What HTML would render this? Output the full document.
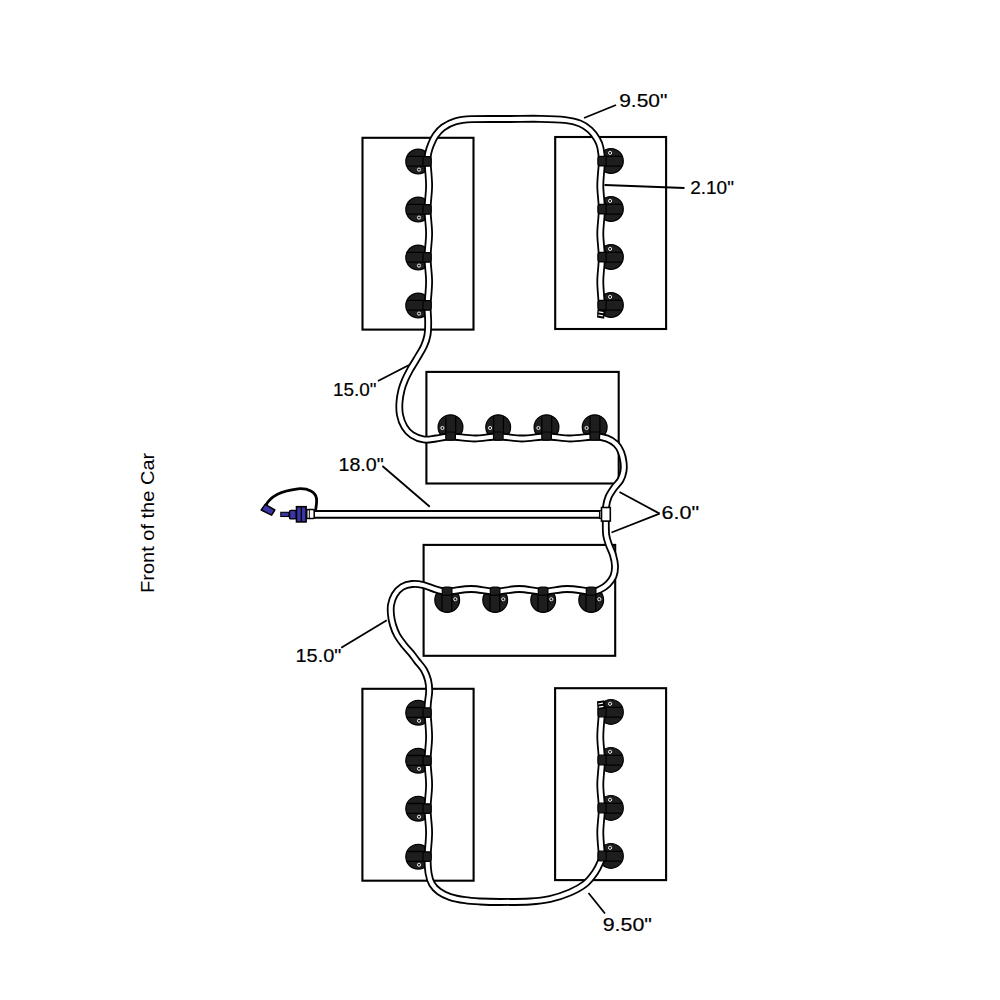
<!DOCTYPE html>
<html><head><meta charset="utf-8"><style>
html,body{margin:0;padding:0;background:#fff;}
svg{display:block;}
text{font-family:"Liberation Sans",sans-serif;fill:#000;stroke:#000;stroke-width:0.2px;}
</style></head><body>
<svg width="1000" height="1000" viewBox="0 0 1000 1000">
<rect width="1000" height="1000" fill="#fff"/>
<rect x="362.5" y="137.8" width="111.0" height="191.8" fill="none" stroke="#000" stroke-width="2.1"/><rect x="555.2" y="137.0" width="110.9" height="192.0" fill="none" stroke="#000" stroke-width="2.1"/><rect x="426.4" y="371.9" width="192.3" height="111.6" fill="none" stroke="#000" stroke-width="2.1"/><rect x="423.6" y="544.9" width="191.6" height="110.9" fill="none" stroke="#000" stroke-width="2.1"/><rect x="362.4" y="688.8" width="111.2" height="191.9" fill="none" stroke="#000" stroke-width="2.1"/><rect x="555.1" y="688.2" width="111.0" height="191.9" fill="none" stroke="#000" stroke-width="2.1"/>
<g transform="translate(418.2 161.5) rotate(0)"><circle r="12.4" fill="#1e1e1e" stroke="#000" stroke-width="1.2"/><path d="M-11 -5.2 H5 M-11 4.6 H5" stroke="#000" stroke-width="1.3"/><circle cx="0.8" cy="8.1" r="1.6" fill="none" stroke="#fff" stroke-width="0.9"/></g><g transform="translate(418.2 209.5) rotate(0)"><circle r="12.4" fill="#1e1e1e" stroke="#000" stroke-width="1.2"/><path d="M-11 -5.2 H5 M-11 4.6 H5" stroke="#000" stroke-width="1.3"/><circle cx="0.8" cy="8.1" r="1.6" fill="none" stroke="#fff" stroke-width="0.9"/></g><g transform="translate(418.2 257.5) rotate(0)"><circle r="12.4" fill="#1e1e1e" stroke="#000" stroke-width="1.2"/><path d="M-11 -5.2 H5 M-11 4.6 H5" stroke="#000" stroke-width="1.3"/><circle cx="0.8" cy="8.1" r="1.6" fill="none" stroke="#fff" stroke-width="0.9"/></g><g transform="translate(418.2 305.5) rotate(0)"><circle r="12.4" fill="#1e1e1e" stroke="#000" stroke-width="1.2"/><path d="M-11 -5.2 H5 M-11 4.6 H5" stroke="#000" stroke-width="1.3"/><circle cx="0.8" cy="8.1" r="1.6" fill="none" stroke="#fff" stroke-width="0.9"/></g><g transform="translate(610.9 161.0) rotate(180)"><circle r="12.4" fill="#1e1e1e" stroke="#000" stroke-width="1.2"/><path d="M-11 -5.2 H5 M-11 4.6 H5" stroke="#000" stroke-width="1.3"/><circle cx="0.8" cy="8.1" r="1.6" fill="none" stroke="#fff" stroke-width="0.9"/></g><g transform="translate(610.9 209.0) rotate(180)"><circle r="12.4" fill="#1e1e1e" stroke="#000" stroke-width="1.2"/><path d="M-11 -5.2 H5 M-11 4.6 H5" stroke="#000" stroke-width="1.3"/><circle cx="0.8" cy="8.1" r="1.6" fill="none" stroke="#fff" stroke-width="0.9"/></g><g transform="translate(610.9 257.0) rotate(180)"><circle r="12.4" fill="#1e1e1e" stroke="#000" stroke-width="1.2"/><path d="M-11 -5.2 H5 M-11 4.6 H5" stroke="#000" stroke-width="1.3"/><circle cx="0.8" cy="8.1" r="1.6" fill="none" stroke="#fff" stroke-width="0.9"/></g><g transform="translate(610.9 305.0) rotate(180)"><circle r="12.4" fill="#1e1e1e" stroke="#000" stroke-width="1.2"/><path d="M-11 -5.2 H5 M-11 4.6 H5" stroke="#000" stroke-width="1.3"/><circle cx="0.8" cy="8.1" r="1.6" fill="none" stroke="#fff" stroke-width="0.9"/></g><g transform="translate(450.5 427.2) rotate(90)"><circle r="12.4" fill="#1e1e1e" stroke="#000" stroke-width="1.2"/><path d="M-11 -5.2 H5 M-11 4.6 H5" stroke="#000" stroke-width="1.3"/><circle cx="0.8" cy="8.1" r="1.6" fill="none" stroke="#fff" stroke-width="0.9"/></g><g transform="translate(498.2 427.2) rotate(90)"><circle r="12.4" fill="#1e1e1e" stroke="#000" stroke-width="1.2"/><path d="M-11 -5.2 H5 M-11 4.6 H5" stroke="#000" stroke-width="1.3"/><circle cx="0.8" cy="8.1" r="1.6" fill="none" stroke="#fff" stroke-width="0.9"/></g><g transform="translate(546.5 427.2) rotate(90)"><circle r="12.4" fill="#1e1e1e" stroke="#000" stroke-width="1.2"/><path d="M-11 -5.2 H5 M-11 4.6 H5" stroke="#000" stroke-width="1.3"/><circle cx="0.8" cy="8.1" r="1.6" fill="none" stroke="#fff" stroke-width="0.9"/></g><g transform="translate(594.7 427.2) rotate(90)"><circle r="12.4" fill="#1e1e1e" stroke="#000" stroke-width="1.2"/><path d="M-11 -5.2 H5 M-11 4.6 H5" stroke="#000" stroke-width="1.3"/><circle cx="0.8" cy="8.1" r="1.6" fill="none" stroke="#fff" stroke-width="0.9"/></g><g transform="translate(591.2 600.0) rotate(270)"><circle r="12.4" fill="#1e1e1e" stroke="#000" stroke-width="1.2"/><path d="M-11 -5.2 H5 M-11 4.6 H5" stroke="#000" stroke-width="1.3"/><circle cx="0.8" cy="8.1" r="1.6" fill="none" stroke="#fff" stroke-width="0.9"/></g><g transform="translate(543.2 600.0) rotate(270)"><circle r="12.4" fill="#1e1e1e" stroke="#000" stroke-width="1.2"/><path d="M-11 -5.2 H5 M-11 4.6 H5" stroke="#000" stroke-width="1.3"/><circle cx="0.8" cy="8.1" r="1.6" fill="none" stroke="#fff" stroke-width="0.9"/></g><g transform="translate(495.2 600.0) rotate(270)"><circle r="12.4" fill="#1e1e1e" stroke="#000" stroke-width="1.2"/><path d="M-11 -5.2 H5 M-11 4.6 H5" stroke="#000" stroke-width="1.3"/><circle cx="0.8" cy="8.1" r="1.6" fill="none" stroke="#fff" stroke-width="0.9"/></g><g transform="translate(447.2 600.0) rotate(270)"><circle r="12.4" fill="#1e1e1e" stroke="#000" stroke-width="1.2"/><path d="M-11 -5.2 H5 M-11 4.6 H5" stroke="#000" stroke-width="1.3"/><circle cx="0.8" cy="8.1" r="1.6" fill="none" stroke="#fff" stroke-width="0.9"/></g><g transform="translate(418.2 712.7) rotate(0)"><circle r="12.4" fill="#1e1e1e" stroke="#000" stroke-width="1.2"/><path d="M-11 -5.2 H5 M-11 4.6 H5" stroke="#000" stroke-width="1.3"/><circle cx="0.8" cy="8.1" r="1.6" fill="none" stroke="#fff" stroke-width="0.9"/></g><g transform="translate(418.2 760.7) rotate(0)"><circle r="12.4" fill="#1e1e1e" stroke="#000" stroke-width="1.2"/><path d="M-11 -5.2 H5 M-11 4.6 H5" stroke="#000" stroke-width="1.3"/><circle cx="0.8" cy="8.1" r="1.6" fill="none" stroke="#fff" stroke-width="0.9"/></g><g transform="translate(418.2 808.7) rotate(0)"><circle r="12.4" fill="#1e1e1e" stroke="#000" stroke-width="1.2"/><path d="M-11 -5.2 H5 M-11 4.6 H5" stroke="#000" stroke-width="1.3"/><circle cx="0.8" cy="8.1" r="1.6" fill="none" stroke="#fff" stroke-width="0.9"/></g><g transform="translate(418.2 856.7) rotate(0)"><circle r="12.4" fill="#1e1e1e" stroke="#000" stroke-width="1.2"/><path d="M-11 -5.2 H5 M-11 4.6 H5" stroke="#000" stroke-width="1.3"/><circle cx="0.8" cy="8.1" r="1.6" fill="none" stroke="#fff" stroke-width="0.9"/></g><g transform="translate(610.9 711.9) rotate(180)"><circle r="12.4" fill="#1e1e1e" stroke="#000" stroke-width="1.2"/><path d="M-11 -5.2 H5 M-11 4.6 H5" stroke="#000" stroke-width="1.3"/><circle cx="0.8" cy="8.1" r="1.6" fill="none" stroke="#fff" stroke-width="0.9"/></g><g transform="translate(610.9 759.9) rotate(180)"><circle r="12.4" fill="#1e1e1e" stroke="#000" stroke-width="1.2"/><path d="M-11 -5.2 H5 M-11 4.6 H5" stroke="#000" stroke-width="1.3"/><circle cx="0.8" cy="8.1" r="1.6" fill="none" stroke="#fff" stroke-width="0.9"/></g><g transform="translate(610.9 807.9) rotate(180)"><circle r="12.4" fill="#1e1e1e" stroke="#000" stroke-width="1.2"/><path d="M-11 -5.2 H5 M-11 4.6 H5" stroke="#000" stroke-width="1.3"/><circle cx="0.8" cy="8.1" r="1.6" fill="none" stroke="#fff" stroke-width="0.9"/></g><g transform="translate(610.9 855.9) rotate(180)"><circle r="12.4" fill="#1e1e1e" stroke="#000" stroke-width="1.2"/><path d="M-11 -5.2 H5 M-11 4.6 H5" stroke="#000" stroke-width="1.3"/><circle cx="0.8" cy="8.1" r="1.6" fill="none" stroke="#fff" stroke-width="0.9"/></g>
<path d="M601.5 315.0 C601.5 313.4 602.0 311.1 601.8 305.5 C601.6 299.9 600.3 289.5 600.3 281.5 C600.3 273.5 601.8 265.5 601.8 257.5 C601.8 249.5 600.3 241.5 600.3 233.5 C600.3 225.5 601.8 217.5 601.8 209.5 C601.8 201.5 600.3 193.5 600.3 185.5 C600.3 177.5 601.8 167.8 601.8 161.5 C601.8 155.2 601.3 151.8 600.5 148.0 C599.7 144.2 598.8 142.0 597.0 139.0 C595.2 136.0 592.8 132.6 590.0 130.0 C587.2 127.4 584.2 125.2 580.0 123.5 C575.8 121.8 571.7 120.8 565.0 120.0 C558.3 119.2 549.2 119.0 540.0 118.8 C530.8 118.6 521.3 118.9 510.0 119.0 C498.7 119.1 481.2 118.8 472.0 119.2 C462.8 119.6 459.8 120.1 455.0 121.5 C450.2 122.9 446.2 125.2 443.0 127.5 C439.8 129.8 437.5 132.7 435.5 135.5 C433.5 138.3 432.2 141.6 431.0 144.5 C429.8 147.4 428.9 150.2 428.3 153.0 C427.7 155.8 427.5 156.1 427.6 161.5 C427.7 166.9 429.1 177.5 429.1 185.5 C429.1 193.5 427.6 201.5 427.6 209.5 C427.6 217.5 429.1 225.5 429.1 233.5 C429.1 241.5 427.6 249.5 427.6 257.5 C427.6 265.5 429.1 273.5 429.1 281.5 C429.1 289.5 427.8 298.8 427.6 305.5 C427.5 312.2 428.2 317.1 428.2 322.0 C428.2 326.9 428.2 331.0 427.5 335.0 C426.8 339.0 425.9 341.8 424.0 346.0 C422.1 350.2 418.3 356.0 416.0 360.0 C413.7 364.0 411.8 366.7 410.0 370.0 C408.2 373.3 406.4 376.7 405.0 380.0 C403.6 383.3 402.4 386.3 401.5 390.0 C400.6 393.7 399.8 397.8 399.5 402.0 C399.2 406.2 399.2 410.8 400.0 415.0 C400.8 419.2 402.5 423.7 404.5 427.0 C406.5 430.3 408.8 432.9 412.0 435.0 C415.2 437.1 420.0 438.9 424.0 439.5 C428.0 440.1 431.6 439.0 436.0 438.5 C440.4 438.0 444.1 436.5 450.5 436.5 C456.9 436.5 466.6 438.5 474.5 438.5 C482.4 438.5 490.2 436.5 498.2 436.5 C506.1 436.5 514.2 438.5 522.2 438.5 C530.2 438.5 538.5 436.5 546.5 436.5 C554.5 436.5 562.5 438.5 570.5 438.5 C578.5 438.5 588.6 436.5 594.7 436.5 C600.8 436.5 603.5 437.2 607.0 438.5 C610.5 439.8 613.7 441.8 616.0 444.0 C618.3 446.2 619.8 449.0 621.0 452.0 C622.2 455.0 623.1 458.8 623.5 462.0 C623.9 465.2 624.0 468.0 623.5 471.0 C623.0 474.0 622.1 477.2 620.5 480.0 C618.9 482.8 616.0 485.2 614.0 488.0 C612.0 490.8 609.8 493.8 608.5 497.0 C607.2 500.2 606.5 503.0 606.0 507.0 C605.5 511.0 605.8 516.3 605.8 521.0 C605.8 525.7 605.7 531.0 606.2 535.0 C606.7 539.0 607.9 541.7 609.0 545.0 C610.1 548.3 612.0 551.5 613.0 555.0 C614.0 558.5 614.9 562.5 615.0 566.0 C615.1 569.5 614.7 573.0 613.5 576.0 C612.3 579.0 610.2 581.8 608.0 584.0 C605.8 586.2 602.8 588.2 600.0 589.5 C597.2 590.8 596.7 591.6 591.2 591.5 C585.7 591.4 575.2 589.0 567.2 589.0 C559.2 589.0 551.2 591.5 543.2 591.5 C535.2 591.5 527.2 589.0 519.2 589.0 C511.2 589.0 503.2 591.5 495.2 591.5 C487.2 591.5 479.2 589.0 471.2 589.0 C463.2 589.0 453.1 591.4 447.2 591.5 C441.3 591.6 440.0 590.6 436.0 589.5 C432.0 588.4 427.0 585.9 423.0 585.0 C419.0 584.1 415.5 583.7 412.0 584.0 C408.5 584.3 404.9 585.2 402.0 587.0 C399.1 588.8 396.3 592.0 394.5 595.0 C392.7 598.0 391.6 601.7 391.0 605.0 C390.4 608.3 390.7 611.7 391.0 615.0 C391.3 618.3 392.0 621.7 393.0 625.0 C394.0 628.3 395.2 631.7 397.0 635.0 C398.8 638.3 401.7 642.0 404.0 645.0 C406.3 648.0 408.8 650.3 411.0 653.0 C413.2 655.7 414.8 658.2 417.0 661.0 C419.2 663.8 422.2 666.8 424.0 670.0 C425.8 673.2 427.1 676.5 428.0 680.0 C428.9 683.5 429.2 687.3 429.2 691.0 C429.2 694.7 428.3 698.4 428.0 702.0 C427.7 705.6 427.4 706.9 427.6 712.7 C427.8 718.5 429.1 728.7 429.1 736.7 C429.1 744.7 427.6 752.7 427.6 760.7 C427.6 768.7 429.1 776.7 429.1 784.7 C429.1 792.7 427.6 800.7 427.6 808.7 C427.6 816.7 429.1 824.7 429.1 832.7 C429.1 840.7 427.7 850.0 427.6 856.7 C427.5 863.4 427.8 868.5 428.5 873.0 C429.2 877.5 430.2 880.9 432.0 884.0 C433.8 887.1 436.0 889.3 439.0 891.5 C442.0 893.7 445.7 895.5 450.0 897.0 C454.3 898.5 460.0 899.5 465.0 900.2 C470.0 901.0 474.2 901.2 480.0 901.5 C485.8 901.8 491.7 902.0 500.0 902.0 C508.3 902.0 521.7 902.0 530.0 901.5 C538.3 901.0 543.3 900.5 550.0 899.0 C556.7 897.5 564.2 895.0 570.0 892.5 C575.8 890.0 580.8 887.3 585.0 884.0 C589.2 880.7 592.4 876.2 595.0 872.5 C597.6 868.8 599.4 864.6 600.5 862.0 C601.6 859.4 601.8 861.6 601.8 856.7 C601.8 851.8 600.3 840.7 600.3 832.7 C600.3 824.7 601.8 816.7 601.8 808.7 C601.8 800.7 600.3 792.7 600.3 784.7 C600.3 776.7 601.8 768.7 601.8 760.7 C601.8 752.7 600.3 744.7 600.3 736.7 C600.3 728.7 601.6 718.7 601.8 712.7 C602.0 706.8 601.5 703.0 601.5 701.0" fill="none" stroke="#000" stroke-width="7.8" stroke-linejoin="round"/>
<path d="M601.5 315.0 C601.5 313.4 602.0 311.1 601.8 305.5 C601.6 299.9 600.3 289.5 600.3 281.5 C600.3 273.5 601.8 265.5 601.8 257.5 C601.8 249.5 600.3 241.5 600.3 233.5 C600.3 225.5 601.8 217.5 601.8 209.5 C601.8 201.5 600.3 193.5 600.3 185.5 C600.3 177.5 601.8 167.8 601.8 161.5 C601.8 155.2 601.3 151.8 600.5 148.0 C599.7 144.2 598.8 142.0 597.0 139.0 C595.2 136.0 592.8 132.6 590.0 130.0 C587.2 127.4 584.2 125.2 580.0 123.5 C575.8 121.8 571.7 120.8 565.0 120.0 C558.3 119.2 549.2 119.0 540.0 118.8 C530.8 118.6 521.3 118.9 510.0 119.0 C498.7 119.1 481.2 118.8 472.0 119.2 C462.8 119.6 459.8 120.1 455.0 121.5 C450.2 122.9 446.2 125.2 443.0 127.5 C439.8 129.8 437.5 132.7 435.5 135.5 C433.5 138.3 432.2 141.6 431.0 144.5 C429.8 147.4 428.9 150.2 428.3 153.0 C427.7 155.8 427.5 156.1 427.6 161.5 C427.7 166.9 429.1 177.5 429.1 185.5 C429.1 193.5 427.6 201.5 427.6 209.5 C427.6 217.5 429.1 225.5 429.1 233.5 C429.1 241.5 427.6 249.5 427.6 257.5 C427.6 265.5 429.1 273.5 429.1 281.5 C429.1 289.5 427.8 298.8 427.6 305.5 C427.5 312.2 428.2 317.1 428.2 322.0 C428.2 326.9 428.2 331.0 427.5 335.0 C426.8 339.0 425.9 341.8 424.0 346.0 C422.1 350.2 418.3 356.0 416.0 360.0 C413.7 364.0 411.8 366.7 410.0 370.0 C408.2 373.3 406.4 376.7 405.0 380.0 C403.6 383.3 402.4 386.3 401.5 390.0 C400.6 393.7 399.8 397.8 399.5 402.0 C399.2 406.2 399.2 410.8 400.0 415.0 C400.8 419.2 402.5 423.7 404.5 427.0 C406.5 430.3 408.8 432.9 412.0 435.0 C415.2 437.1 420.0 438.9 424.0 439.5 C428.0 440.1 431.6 439.0 436.0 438.5 C440.4 438.0 444.1 436.5 450.5 436.5 C456.9 436.5 466.6 438.5 474.5 438.5 C482.4 438.5 490.2 436.5 498.2 436.5 C506.1 436.5 514.2 438.5 522.2 438.5 C530.2 438.5 538.5 436.5 546.5 436.5 C554.5 436.5 562.5 438.5 570.5 438.5 C578.5 438.5 588.6 436.5 594.7 436.5 C600.8 436.5 603.5 437.2 607.0 438.5 C610.5 439.8 613.7 441.8 616.0 444.0 C618.3 446.2 619.8 449.0 621.0 452.0 C622.2 455.0 623.1 458.8 623.5 462.0 C623.9 465.2 624.0 468.0 623.5 471.0 C623.0 474.0 622.1 477.2 620.5 480.0 C618.9 482.8 616.0 485.2 614.0 488.0 C612.0 490.8 609.8 493.8 608.5 497.0 C607.2 500.2 606.5 503.0 606.0 507.0 C605.5 511.0 605.8 516.3 605.8 521.0 C605.8 525.7 605.7 531.0 606.2 535.0 C606.7 539.0 607.9 541.7 609.0 545.0 C610.1 548.3 612.0 551.5 613.0 555.0 C614.0 558.5 614.9 562.5 615.0 566.0 C615.1 569.5 614.7 573.0 613.5 576.0 C612.3 579.0 610.2 581.8 608.0 584.0 C605.8 586.2 602.8 588.2 600.0 589.5 C597.2 590.8 596.7 591.6 591.2 591.5 C585.7 591.4 575.2 589.0 567.2 589.0 C559.2 589.0 551.2 591.5 543.2 591.5 C535.2 591.5 527.2 589.0 519.2 589.0 C511.2 589.0 503.2 591.5 495.2 591.5 C487.2 591.5 479.2 589.0 471.2 589.0 C463.2 589.0 453.1 591.4 447.2 591.5 C441.3 591.6 440.0 590.6 436.0 589.5 C432.0 588.4 427.0 585.9 423.0 585.0 C419.0 584.1 415.5 583.7 412.0 584.0 C408.5 584.3 404.9 585.2 402.0 587.0 C399.1 588.8 396.3 592.0 394.5 595.0 C392.7 598.0 391.6 601.7 391.0 605.0 C390.4 608.3 390.7 611.7 391.0 615.0 C391.3 618.3 392.0 621.7 393.0 625.0 C394.0 628.3 395.2 631.7 397.0 635.0 C398.8 638.3 401.7 642.0 404.0 645.0 C406.3 648.0 408.8 650.3 411.0 653.0 C413.2 655.7 414.8 658.2 417.0 661.0 C419.2 663.8 422.2 666.8 424.0 670.0 C425.8 673.2 427.1 676.5 428.0 680.0 C428.9 683.5 429.2 687.3 429.2 691.0 C429.2 694.7 428.3 698.4 428.0 702.0 C427.7 705.6 427.4 706.9 427.6 712.7 C427.8 718.5 429.1 728.7 429.1 736.7 C429.1 744.7 427.6 752.7 427.6 760.7 C427.6 768.7 429.1 776.7 429.1 784.7 C429.1 792.7 427.6 800.7 427.6 808.7 C427.6 816.7 429.1 824.7 429.1 832.7 C429.1 840.7 427.7 850.0 427.6 856.7 C427.5 863.4 427.8 868.5 428.5 873.0 C429.2 877.5 430.2 880.9 432.0 884.0 C433.8 887.1 436.0 889.3 439.0 891.5 C442.0 893.7 445.7 895.5 450.0 897.0 C454.3 898.5 460.0 899.5 465.0 900.2 C470.0 901.0 474.2 901.2 480.0 901.5 C485.8 901.8 491.7 902.0 500.0 902.0 C508.3 902.0 521.7 902.0 530.0 901.5 C538.3 901.0 543.3 900.5 550.0 899.0 C556.7 897.5 564.2 895.0 570.0 892.5 C575.8 890.0 580.8 887.3 585.0 884.0 C589.2 880.7 592.4 876.2 595.0 872.5 C597.6 868.8 599.4 864.6 600.5 862.0 C601.6 859.4 601.8 861.6 601.8 856.7 C601.8 851.8 600.3 840.7 600.3 832.7 C600.3 824.7 601.8 816.7 601.8 808.7 C601.8 800.7 600.3 792.7 600.3 784.7 C600.3 776.7 601.8 768.7 601.8 760.7 C601.8 752.7 600.3 744.7 600.3 736.7 C600.3 728.7 601.6 718.7 601.8 712.7 C602.0 706.8 601.5 703.0 601.5 701.0" fill="none" stroke="#fff" stroke-width="4.2" stroke-linejoin="round"/>
<path d="M314 514.4 L602 514.4" fill="none" stroke="#000" stroke-width="8.8"/>
<path d="M314 514.4 L602 514.4" fill="none" stroke="#fff" stroke-width="4.8"/>
<g transform="translate(418.2 161.5) rotate(0)"><path d="M4.8 -4.9 H10.9 Q13.0 -4.9 13.0 -2 V1.8 Q13.0 4.7 10.9 4.7 H4.8 Z" fill="#1e1e1e" stroke="#000" stroke-width="1.2"/></g><g transform="translate(418.2 209.5) rotate(0)"><path d="M4.8 -4.9 H10.9 Q13.0 -4.9 13.0 -2 V1.8 Q13.0 4.7 10.9 4.7 H4.8 Z" fill="#1e1e1e" stroke="#000" stroke-width="1.2"/></g><g transform="translate(418.2 257.5) rotate(0)"><path d="M4.8 -4.9 H10.9 Q13.0 -4.9 13.0 -2 V1.8 Q13.0 4.7 10.9 4.7 H4.8 Z" fill="#1e1e1e" stroke="#000" stroke-width="1.2"/></g><g transform="translate(418.2 305.5) rotate(0)"><path d="M4.8 -4.9 H10.9 Q13.0 -4.9 13.0 -2 V1.8 Q13.0 4.7 10.9 4.7 H4.8 Z" fill="#1e1e1e" stroke="#000" stroke-width="1.2"/></g><g transform="translate(610.9 161.0) rotate(180)"><path d="M4.8 -4.9 H10.9 Q13.0 -4.9 13.0 -2 V1.8 Q13.0 4.7 10.9 4.7 H4.8 Z" fill="#1e1e1e" stroke="#000" stroke-width="1.2"/></g><g transform="translate(610.9 209.0) rotate(180)"><path d="M4.8 -4.9 H10.9 Q13.0 -4.9 13.0 -2 V1.8 Q13.0 4.7 10.9 4.7 H4.8 Z" fill="#1e1e1e" stroke="#000" stroke-width="1.2"/></g><g transform="translate(610.9 257.0) rotate(180)"><path d="M4.8 -4.9 H10.9 Q13.0 -4.9 13.0 -2 V1.8 Q13.0 4.7 10.9 4.7 H4.8 Z" fill="#1e1e1e" stroke="#000" stroke-width="1.2"/></g><g transform="translate(610.9 305.0) rotate(180)"><path d="M4.8 -4.9 H10.9 Q13.0 -4.9 13.0 -2 V1.8 Q13.0 4.7 10.9 4.7 H4.8 Z" fill="#1e1e1e" stroke="#000" stroke-width="1.2"/></g><g transform="translate(450.5 427.2) rotate(90)"><path d="M4.8 -4.9 H10.9 Q13.0 -4.9 13.0 -2 V1.8 Q13.0 4.7 10.9 4.7 H4.8 Z" fill="#1e1e1e" stroke="#000" stroke-width="1.2"/></g><g transform="translate(498.2 427.2) rotate(90)"><path d="M4.8 -4.9 H10.9 Q13.0 -4.9 13.0 -2 V1.8 Q13.0 4.7 10.9 4.7 H4.8 Z" fill="#1e1e1e" stroke="#000" stroke-width="1.2"/></g><g transform="translate(546.5 427.2) rotate(90)"><path d="M4.8 -4.9 H10.9 Q13.0 -4.9 13.0 -2 V1.8 Q13.0 4.7 10.9 4.7 H4.8 Z" fill="#1e1e1e" stroke="#000" stroke-width="1.2"/></g><g transform="translate(594.7 427.2) rotate(90)"><path d="M4.8 -4.9 H10.9 Q13.0 -4.9 13.0 -2 V1.8 Q13.0 4.7 10.9 4.7 H4.8 Z" fill="#1e1e1e" stroke="#000" stroke-width="1.2"/></g><g transform="translate(591.2 600.0) rotate(270)"><path d="M4.8 -4.9 H10.9 Q13.0 -4.9 13.0 -2 V1.8 Q13.0 4.7 10.9 4.7 H4.8 Z" fill="#1e1e1e" stroke="#000" stroke-width="1.2"/></g><g transform="translate(543.2 600.0) rotate(270)"><path d="M4.8 -4.9 H10.9 Q13.0 -4.9 13.0 -2 V1.8 Q13.0 4.7 10.9 4.7 H4.8 Z" fill="#1e1e1e" stroke="#000" stroke-width="1.2"/></g><g transform="translate(495.2 600.0) rotate(270)"><path d="M4.8 -4.9 H10.9 Q13.0 -4.9 13.0 -2 V1.8 Q13.0 4.7 10.9 4.7 H4.8 Z" fill="#1e1e1e" stroke="#000" stroke-width="1.2"/></g><g transform="translate(447.2 600.0) rotate(270)"><path d="M4.8 -4.9 H10.9 Q13.0 -4.9 13.0 -2 V1.8 Q13.0 4.7 10.9 4.7 H4.8 Z" fill="#1e1e1e" stroke="#000" stroke-width="1.2"/></g><g transform="translate(418.2 712.7) rotate(0)"><path d="M4.8 -4.9 H10.9 Q13.0 -4.9 13.0 -2 V1.8 Q13.0 4.7 10.9 4.7 H4.8 Z" fill="#1e1e1e" stroke="#000" stroke-width="1.2"/></g><g transform="translate(418.2 760.7) rotate(0)"><path d="M4.8 -4.9 H10.9 Q13.0 -4.9 13.0 -2 V1.8 Q13.0 4.7 10.9 4.7 H4.8 Z" fill="#1e1e1e" stroke="#000" stroke-width="1.2"/></g><g transform="translate(418.2 808.7) rotate(0)"><path d="M4.8 -4.9 H10.9 Q13.0 -4.9 13.0 -2 V1.8 Q13.0 4.7 10.9 4.7 H4.8 Z" fill="#1e1e1e" stroke="#000" stroke-width="1.2"/></g><g transform="translate(418.2 856.7) rotate(0)"><path d="M4.8 -4.9 H10.9 Q13.0 -4.9 13.0 -2 V1.8 Q13.0 4.7 10.9 4.7 H4.8 Z" fill="#1e1e1e" stroke="#000" stroke-width="1.2"/></g><g transform="translate(610.9 711.9) rotate(180)"><path d="M4.8 -4.9 H10.9 Q13.0 -4.9 13.0 -2 V1.8 Q13.0 4.7 10.9 4.7 H4.8 Z" fill="#1e1e1e" stroke="#000" stroke-width="1.2"/></g><g transform="translate(610.9 759.9) rotate(180)"><path d="M4.8 -4.9 H10.9 Q13.0 -4.9 13.0 -2 V1.8 Q13.0 4.7 10.9 4.7 H4.8 Z" fill="#1e1e1e" stroke="#000" stroke-width="1.2"/></g><g transform="translate(610.9 807.9) rotate(180)"><path d="M4.8 -4.9 H10.9 Q13.0 -4.9 13.0 -2 V1.8 Q13.0 4.7 10.9 4.7 H4.8 Z" fill="#1e1e1e" stroke="#000" stroke-width="1.2"/></g><g transform="translate(610.9 855.9) rotate(180)"><path d="M4.8 -4.9 H10.9 Q13.0 -4.9 13.0 -2 V1.8 Q13.0 4.7 10.9 4.7 H4.8 Z" fill="#1e1e1e" stroke="#000" stroke-width="1.2"/></g>

<rect x="599.6" y="510.6" width="3" height="7.8" fill="#fff" stroke="#000" stroke-width="1.3"/>
<rect x="601.5" y="507.5" width="8.8" height="13.6" fill="#fff" stroke="#000" stroke-width="1.6"/>


<path d="M597.5 309.5 L604.8 310 L604.2 318.8 L597 317.5 Z" fill="#000"/>
<path d="M598.8 311.2 L603.5 312 L603.3 313.2 L598.6 312.6 Z M598.4 314.4 L603 315.2 L602.8 316.6 L598.1 315.6 Z" fill="#fff"/>
<path d="M597.5 709.5 L604.8 709 L604.2 700.2 L597 701.5 Z" fill="#000"/>
<path d="M598.8 707.8 L603.5 707 L603.3 705.8 L598.6 706.4 Z M598.4 704.6 L603 703.8 L602.8 702.4 L598.1 703.4 Z" fill="#fff"/>


<path d="M266 505 C272 493 288 490 298 488.8 C308 488 316 492 316.5 499 C317 504 316 507 315.6 510" fill="none" stroke="#000" stroke-width="2.8" stroke-linecap="round"/>
<path d="M261.2 510 L265.2 504.4 L274.8 510 L271.6 515.2 Z" fill="#3a36a8" stroke="#000" stroke-width="1.5" stroke-linejoin="round"/>
<rect x="280.8" y="512.3" width="8.2" height="4.2" fill="#3a36a8" stroke="#000" stroke-width="1.1"/>
<rect x="289.5" y="510.4" width="6.8" height="8.5" rx="1.5" fill="#3a36a8" stroke="#000" stroke-width="1.4"/>
<rect x="296.5" y="506.7" width="9.6" height="15.2" fill="#3a36a8" stroke="#000" stroke-width="1.6"/>
<line x1="301.3" y1="507" x2="301.3" y2="521.6" stroke="#000" stroke-width="1.4"/>
<rect x="306.8" y="509.6" width="7.4" height="9" rx="1.2" fill="#fff" stroke="#000" stroke-width="1.5"/>
<line x1="309.3" y1="510" x2="309.3" y2="518.2" stroke="#000" stroke-width="1"/>

<line x1="584.0" y1="118.0" x2="616.0" y2="105.0" stroke="#000" stroke-width="1.8"/><line x1="604.5" y1="185.0" x2="684.5" y2="188.0" stroke="#000" stroke-width="1.8"/><line x1="378.0" y1="381.0" x2="409.0" y2="365.0" stroke="#000" stroke-width="1.8"/><line x1="382.4" y1="466.0" x2="429.8" y2="506.8" stroke="#000" stroke-width="1.8"/><line x1="619.5" y1="492.0" x2="659.6" y2="513.6" stroke="#000" stroke-width="1.8"/><line x1="611.5" y1="532.5" x2="659.6" y2="513.6" stroke="#000" stroke-width="1.8"/><line x1="341.2" y1="647.8" x2="386.8" y2="620.2" stroke="#000" stroke-width="1.8"/><line x1="588.5" y1="893.0" x2="605.0" y2="913.5" stroke="#000" stroke-width="1.8"/>
<text x="619.2" y="107.2" font-size="19.0" textLength="48.2" lengthAdjust="spacingAndGlyphs">9.50"</text><text x="690.2" y="194.0" font-size="19.0" textLength="43.7" lengthAdjust="spacingAndGlyphs">2.10"</text><text x="332.9" y="395.5" font-size="19.0" textLength="43.5" lengthAdjust="spacingAndGlyphs">15.0"</text><text x="338.5" y="470.8" font-size="19.0" textLength="45.2" lengthAdjust="spacingAndGlyphs">18.0"</text><text x="661.5" y="519.2" font-size="19.0" textLength="37.6" lengthAdjust="spacingAndGlyphs">6.0"</text><text x="295.5" y="662.2" font-size="19.0" textLength="45.8" lengthAdjust="spacingAndGlyphs">15.0"</text><text x="602.7" y="930.5" font-size="19.0" textLength="49.2" lengthAdjust="spacingAndGlyphs">9.50"</text>
<text transform="translate(154.4 591.8) rotate(-90)" style="stroke-width:0" font-size="18.7" x="-1.2" y="0" textLength="140.2" lengthAdjust="spacingAndGlyphs">Front of the Car</text>
</svg>
</body></html>
